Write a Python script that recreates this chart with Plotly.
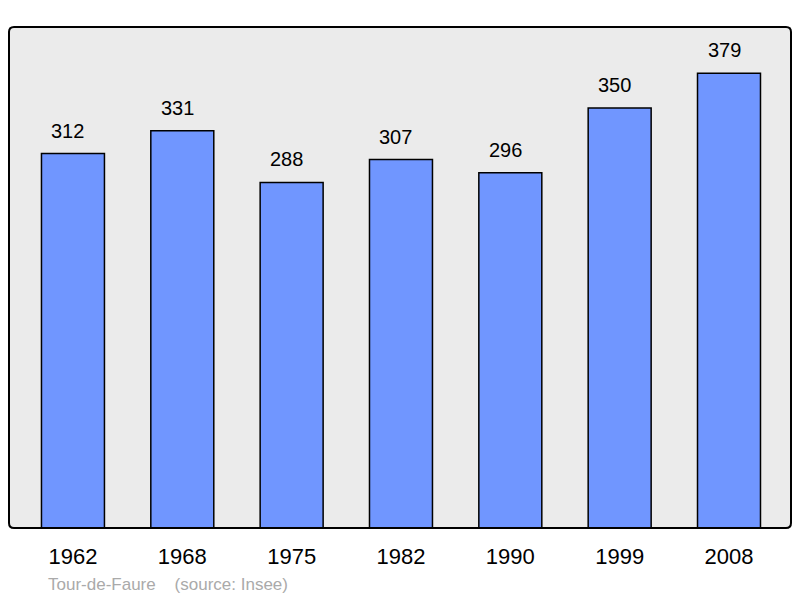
import plotly.graph_objects as go

years = ["1962", "1968", "1975", "1982", "1990", "1999", "2008"]
population = [312, 331, 288, 307, 296, 350, 379]
footer_place = "Tour-de-Faure"
footer_source = "(source: Insee)"

xs = list(range(len(years)))

fig = go.Figure()
fig.add_trace(go.Bar(
    x=xs, y=population, width=0.576,
    marker=dict(color="#7096ff", line=dict(color="#000000", width=1.5)),
    hoverinfo="skip",
))

for x, v in zip(xs, population):
    fig.add_annotation(x=x, y=v, text=str(v), showarrow=False, yshift=23, xshift=-5,
                       font=dict(size=20, color="#000000"), xref="x", yref="y")

W, H = 800, 598
L, R, T, B = 9, 9, 27, 70
pw, ph = W - L - R, H - T - B
r = 5
rx, ry = r / pw, r / ph
path = (f"M {rx} 0 L {1-rx} 0 Q 1 0 1 {ry} L 1 {1-ry} Q 1 1 {1-rx} 1 "
        f"L {rx} 1 Q 0 1 0 {1-ry} L 0 {ry} Q 0 0 {rx} 0 Z")
fig.add_shape(type="path", path=path, xref="paper", yref="paper",
              line=dict(color="#000000", width=2), fillcolor="rgba(0,0,0,0)",
              layer="above")

fig.add_annotation(x=(46 - L) / pw, y=-(584 - 528) / ph, xref="paper", yref="paper",
                   text=footer_place + "&nbsp;&nbsp;&nbsp;&nbsp;" + footer_source,
                   showarrow=False, xanchor="left", yanchor="middle",
                   font=dict(size=17, color="#aaaaaa"))

fig.update_layout(
    width=W, height=H,
    margin=dict(l=L, r=R, t=T, b=B),
    paper_bgcolor="#ffffff", plot_bgcolor="#ebebeb",
    font=dict(family="Liberation Sans, Arial, sans-serif", color="#000000"),
    showlegend=False,
    xaxis=dict(range=[-0.585, 6.567], tickmode="array", tickvals=xs, ticktext=years,
               showgrid=False, zeroline=False, showline=False,
               ticks="outside", ticklen=9, tickcolor="rgba(0,0,0,0)",
               tickfont=dict(size=22), fixedrange=True),
    yaxis=dict(range=[0, 417.5], showgrid=False, zeroline=False, showline=False,
               showticklabels=False, ticks="", fixedrange=True),
)

fig.write_html("out.html", config={"displayModeBar": False},
               post_script="document.body.style.margin='0px';")
